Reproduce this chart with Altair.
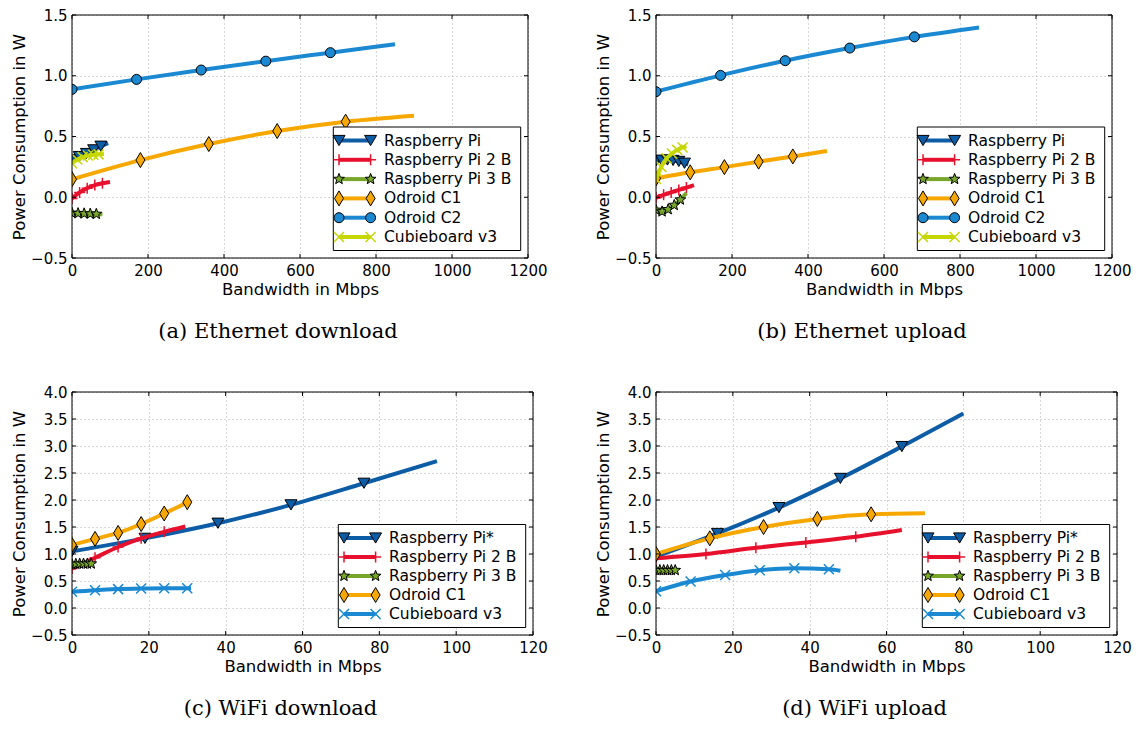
import math
import pandas as pd
import altair as alt

# ---------------- data ----------------
ETH_NAMES = ["Raspberry Pi", "Raspberry Pi 2 B", "Raspberry Pi 3 B",
             "Odroid C1", "Odroid C2", "Cubieboard v3"]
WIFI_NAMES = ["Raspberry Pi*", "Raspberry Pi 2 B", "Raspberry Pi 3 B",
              "Odroid C1", "Cubieboard v3"]

ETH_X_TICKS = [0, 200, 400, 600, 800, 1000, 1200]
ETH_Y_TICKS = [-0.5, 0.0, 0.5, 1.0, 1.5]
WIFI_X_TICKS = [0, 20, 40, 60, 80, 100, 120]
WIFI_Y_TICKS = [-0.5, 0.0, 0.5, 1.0, 1.5, 2.0, 2.5, 3.0, 3.5, 4.0]

# (a) Ethernet download
ED_RPI_X = [0, 19, 38, 57, 76, 95]
ED_RPI_Y = [0.31, 0.335, 0.36, 0.39, 0.42, 0.445]
ED_RPI2_X = [0, 20, 40, 60, 80, 100]
ED_RPI2_Y = [-0.01, 0.04, 0.075, 0.10, 0.115, 0.125]
ED_RPI3_X = [0, 16, 32, 48, 64, 80]
ED_RPI3_Y = [-0.13, -0.132, -0.134, -0.136, -0.138, -0.14]
ED_C1_X = [0, 180, 360, 540, 720, 900]
ED_C1_Y = [0.148, 0.306, 0.438, 0.545, 0.622, 0.671]
ED_C2_X = [0, 170, 340, 510, 680, 850]
ED_C2_Y = [0.888, 0.97, 1.047, 1.12, 1.19, 1.26]
ED_CUB_X = [0, 14, 28, 42, 56, 70, 84]
ED_CUB_Y = [0.28, 0.31, 0.33, 0.343, 0.35, 0.353, 0.355]

# (b) Ethernet upload
EU_RPI_X = [0, 15, 30, 45, 60, 75, 85]
EU_RPI_Y = [0.30, 0.305, 0.307, 0.303, 0.295, 0.28, 0.27]
EU_RPI2_X = [0, 20, 40, 60, 80, 100]
EU_RPI2_Y = [-0.005, 0.02, 0.04, 0.06, 0.08, 0.10]
EU_RPI3_X = [0, 16, 32, 48, 64, 80]
EU_RPI3_Y = [-0.105, -0.118, -0.10, -0.065, -0.02, 0.035]
EU_C1_X = [0, 90, 180, 270, 360, 450]
EU_C1_Y = [0.155, 0.205, 0.248, 0.293, 0.336, 0.38]
EU_C2_X = [0, 170, 340, 510, 680, 850]
EU_C2_Y = [0.869, 1.003, 1.124, 1.228, 1.32, 1.398]
EU_CUB_X = [0, 14, 28, 42, 56, 70, 80]
EU_CUB_Y = [0.15, 0.25, 0.32, 0.36, 0.39, 0.41, 0.42]

# (c) WiFi download
WD_RPI_X = [0, 19, 38, 57, 76, 95]
WD_RPI_Y = [1.05, 1.29, 1.57, 1.91, 2.31, 2.72]
WD_RPI2_X = [0, 6, 12, 18, 24, 29.5]
WD_RPI2_Y = [0.73, 0.93, 1.13, 1.29, 1.41, 1.51]
WD_RPI3_X = [0, 1, 2, 3, 4, 5, 5.6]
WD_RPI3_Y = [0.81, 0.815, 0.82, 0.82, 0.82, 0.82, 0.82]
WD_C1_X = [0, 6, 12, 18, 24, 30, 31]
WD_C1_Y = [1.167, 1.28, 1.39, 1.555, 1.75, 1.96, 2.0]
WD_CUB_X = [0, 6, 12, 18, 24, 30, 31]
WD_CUB_Y = [0.30, 0.33, 0.35, 0.36, 0.365, 0.365, 0.365]

# (d) WiFi upload
WU_RPI_X = [0, 16, 32, 48, 64, 80]
WU_RPI_Y = [0.95, 1.38, 1.86, 2.40, 2.99, 3.60]
WU_RPI2_X = [0, 13, 26, 39, 52, 64]
WU_RPI2_Y = [0.92, 1.0, 1.115, 1.215, 1.32, 1.445]
WU_RPI3_X = [0, 1, 2, 3, 4, 5, 5.6]
WU_RPI3_Y = [0.70, 0.70, 0.70, 0.70, 0.70, 0.70, 0.70]
WU_C1_X = [0, 14, 28, 42, 56, 70]
WU_C1_Y = [1.0, 1.29, 1.50, 1.65, 1.735, 1.755]
WU_CUB_X = [0, 9, 18, 27, 36, 45, 48]
WU_CUB_Y = [0.31, 0.49, 0.61, 0.70, 0.735, 0.716, 0.69]

# ---------------- styles ----------------
def star_path(inner=0.42):
    pts = []
    for i in range(10):
        r = 1.0 if i % 2 == 0 else inner
        a = -math.pi / 2 + i * math.pi / 5
        pts.append(f"{r * math.cos(a):.3f},{r * math.sin(a):.3f}")
    return "M" + " L".join(pts) + " Z"

TRI = "M-1,-0.85 L1,-0.85 L0,0.85 Z"
DIAM = "M0,-1 L0.6,0 L0,1 L-0.6,0 Z"
PLUS = "M-1,0 L1,0 M0,-1 L0,1"
XMARK = "M-1,-1 L1,1 M-1,1 L1,-1"
STAR = star_path()

S_RPI = dict(color="#0d5ca6", shape=TRI, size=144, filled=True)
S_RPI2 = dict(color="#e8112d", shape=PLUS, size=121, filled=False)
S_RPI3 = dict(color="#78a62a", shape=STAR, size=130, filled=True)
S_C1 = dict(color="#f6a800", shape=DIAM, size=225, filled=True)
S_C2 = dict(color="#1b89d2", shape="circle", size=100, filled=True)
S_CUB_E = dict(color="#c6d600", shape=XMARK, size=100, filled=False)
S_CUB_W = dict(color="#1b89d2", shape=XMARK, size=100, filled=False)

FONT = "DejaVu Sans"
LW = 4
TICK = 4


def point_mark(st, clip):
    if st["filled"]:
        return alt.Chart().mark_point(shape=st["shape"], size=st["size"], filled=True,
                                      fill=st["color"], stroke="black", strokeWidth=1,
                                      opacity=1, clip=clip)
    return alt.Chart().mark_point(shape=st["shape"], size=st["size"], filled=False,
                                  stroke=st["color"], strokeWidth=1.5, opacity=1, clip=clip)


def panel(names, xs_list, ys_list, styles, xticks, yticks, width, height, caption, rs):
    xdom = [xticks[0], xticks[-1]]
    ydom = [yticks[0], yticks[-1]]
    xscale = alt.Scale(domain=xdom, nice=False, zero=False)
    yscale = alt.Scale(domain=ydom, nice=False, zero=False)
    xaxis = alt.Axis(values=xticks, format="d", title="Bandwidth in Mbps")
    yaxis = alt.Axis(values=yticks, format=".1f", title="Power Consumption in W")
    xenc = alt.X("x:Q", scale=xscale, axis=xaxis)
    yenc = alt.Y("y:Q", scale=yscale, axis=yaxis)
    layers = []
    for name, xs, ys, st in zip(names, xs_list, ys_list, styles):
        df = pd.DataFrame({"x": xs, "y": ys})
        layers.append(alt.Chart(df).mark_line(color=st["color"], strokeWidth=LW,
                                              interpolate="monotone", clip=True)
                      .encode(x=xenc, y=yenc))
        pm = point_mark(st, True)
        pm.data = df.iloc[:-1]
        layers.append(pm.encode(x=xenc, y=yenc))

    # inward tick marks on all four sides (matplotlib classic look)
    xt = pd.DataFrame({"x": xticks})
    yt = pd.DataFrame({"y": yticks})
    layers.append(alt.Chart(xt).mark_rule(color="black", strokeWidth=1)
                  .encode(x=xenc, y=alt.value(height - TICK), y2=alt.value(height)))
    layers.append(alt.Chart(xt).mark_rule(color="black", strokeWidth=1)
                  .encode(x=xenc, y=alt.value(0), y2=alt.value(TICK)))
    layers.append(alt.Chart(yt).mark_rule(color="black", strokeWidth=1)
                  .encode(y=yenc, x=alt.value(0), x2=alt.value(TICK)))
    layers.append(alt.Chart(yt).mark_rule(color="black", strokeWidth=1)
                  .encode(y=yenc, x=alt.value(width - TICK), x2=alt.value(width)))

    # plot frame drawn over the grid
    frame = pd.DataFrame({"a": [0], "b": [width], "c": [0], "d": [height]})
    layers.append(alt.Chart(frame).mark_rect(fill=None, stroke="black", strokeWidth=1)
                  .encode(x=alt.X("a:Q", scale=None), x2="b:Q",
                          y=alt.Y("c:Q", scale=None), y2="d:Q"))

    # legend box (pixel space)
    n = len(names)
    bx1 = width - 7.3
    bx0 = bx1 - 187.4
    by1 = height - 7.5
    by0 = by1 - (2 * 13.5 + (n - 1) * rs)
    box = pd.DataFrame({"a": [bx0], "b": [bx1], "c": [by0], "d": [by1]})
    layers.append(alt.Chart(box).mark_rect(fill="white", stroke="black", strokeWidth=1)
                  .encode(x=alt.X("a:Q", scale=None), x2="b:Q",
                          y=alt.Y("c:Q", scale=None), y2="d:Q"))
    lx0, lx1 = bx0 + 5.7, bx0 + 37.3
    for i, st in enumerate(styles):
        ly = by0 + 13.5 + i * rs
        seg = pd.DataFrame({"lx": [lx0], "lx2": [lx1], "ly": [ly]})
        layers.append(alt.Chart(seg).mark_rule(color=st["color"], strokeWidth=LW)
                      .encode(x=alt.X("lx:Q", scale=None), x2="lx2:Q",
                              y=alt.Y("ly:Q", scale=None)))
        ends = pd.DataFrame({"lx": [lx0, lx1], "ly": [ly, ly]})
        pm = point_mark(st, False)
        pm.data = ends
        layers.append(pm.encode(x=alt.X("lx:Q", scale=None), y=alt.Y("ly:Q", scale=None)))
    txt = pd.DataFrame({"name": names,
                        "lx": [bx0 + 50.7] * n,
                        "ly": [by0 + 13.5 + i * rs for i in range(n)]})
    layers.append(alt.Chart(txt).mark_text(align="left", baseline="middle", font=FONT,
                                           fontSize=15.5, color="black")
                  .encode(x=alt.X("lx:Q", scale=None), y=alt.Y("ly:Q", scale=None),
                          text="name:N"))
    return alt.layer(*layers).properties(
        width=width, height=height,
        title=alt.TitleParams(text=caption, orient="bottom", anchor="middle",
                              font="DejaVu Serif", fontSize=21, fontWeight="normal",
                              color="black", offset=23, dx=-22))


eth_styles = [S_RPI, S_RPI2, S_RPI3, S_C1, S_C2, S_CUB_E]
wifi_styles = [S_RPI, S_RPI2, S_RPI3, S_C1, S_CUB_W]

pa = panel(ETH_NAMES,
           [ED_RPI_X, ED_RPI2_X, ED_RPI3_X, ED_C1_X, ED_C2_X, ED_CUB_X],
           [ED_RPI_Y, ED_RPI2_Y, ED_RPI3_Y, ED_C1_Y, ED_C2_Y, ED_CUB_Y],
           eth_styles, ETH_X_TICKS, ETH_Y_TICKS, 456, 243, "(a) Ethernet download", 19.3)
pb = panel(ETH_NAMES,
           [EU_RPI_X, EU_RPI2_X, EU_RPI3_X, EU_C1_X, EU_C2_X, EU_CUB_X],
           [EU_RPI_Y, EU_RPI2_Y, EU_RPI3_Y, EU_C1_Y, EU_C2_Y, EU_CUB_Y],
           eth_styles, ETH_X_TICKS, ETH_Y_TICKS, 456, 243, "(b) Ethernet upload", 19.3)
pc = panel(WIFI_NAMES,
           [WD_RPI_X, WD_RPI2_X, WD_RPI3_X, WD_C1_X, WD_CUB_X],
           [WD_RPI_Y, WD_RPI2_Y, WD_RPI3_Y, WD_C1_Y, WD_CUB_Y],
           wifi_styles, WIFI_X_TICKS, WIFI_Y_TICKS, 461, 243, "(c) WiFi download", 19.0)
pd_ = panel(WIFI_NAMES,
            [WU_RPI_X, WU_RPI2_X, WU_RPI3_X, WU_C1_X, WU_CUB_X],
            [WU_RPI_Y, WU_RPI2_Y, WU_RPI3_Y, WU_C1_Y, WU_CUB_Y],
            wifi_styles, WIFI_X_TICKS, WIFI_Y_TICKS, 461, 243, "(d) WiFi upload", 19.0)

chart = alt.concat(
    pa, pb, pc, pd_, columns=2,
    spacing={"row": 134, "column": 123}, bounds="flush",
).configure_view(
    stroke=None
).configure_axis(
    labelFont=FONT, labelFontSize=15, labelColor="black", labelPadding=5,
    titleFont=FONT, titleFontSize=16.5, titleColor="black", titleFontWeight="normal",
    titlePadding=3, ticks=False, domain=False,
    grid=True, gridColor="#b0b0b0", gridDash=[1, 3], gridWidth=1,
    labelOverlap=False, labelFlush=False,
).properties(
    padding={"left": 11, "top": 8, "right": 5, "bottom": 5},
    background="white",
)

chart.save("out.html", embed_options={"renderer": "svg", "actions": False})
